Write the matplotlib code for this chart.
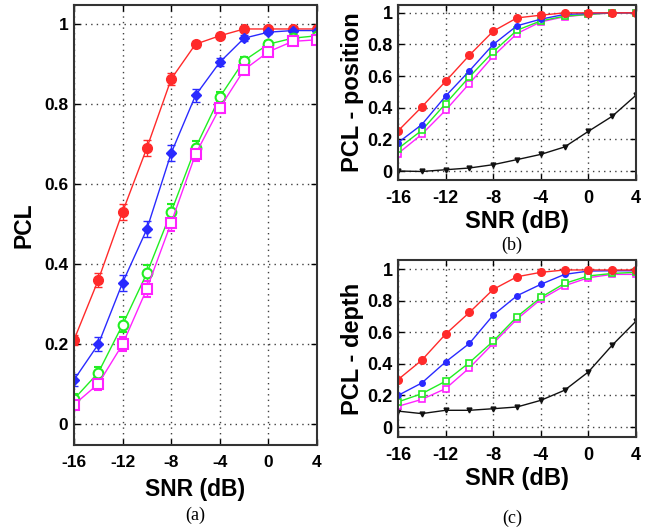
import numpy as np
import matplotlib
matplotlib.use("Agg")
import matplotlib.pyplot as plt

plt.rcParams['font.family'] = ['Liberation Sans', 'DejaVu Sans']

snr = [-16, -14, -12, -10, -8, -6, -4, -2, 0, 2, 4]

# panel (a): PCL with error bars
a_red = [0.21, 0.36, 0.53, 0.69, 0.862, 0.949, 0.97, 0.987, 0.987, 0.987, 0.987]
a_blue = [0.11, 0.199, 0.353, 0.487, 0.677, 0.821, 0.904, 0.964, 0.979, 0.983, 0.983]
a_green = [0.062, 0.128, 0.248, 0.377, 0.53, 0.69, 0.817, 0.908, 0.949, 0.964, 0.97]
a_mag = [0.048, 0.10, 0.199, 0.338, 0.503, 0.674, 0.79, 0.885, 0.93, 0.956, 0.96]
a_red_err = [0.012, 0.018, 0.02, 0.02, 0.015, 0.008, 0.006, 0.004, 0.004, 0.004, 0.004]
a_blue_err = [0.015, 0.018, 0.02, 0.02, 0.019, 0.016, 0.01, 0.007, 0.005, 0.004, 0.004]
a_green_err = [0.012, 0.015, 0.018, 0.02, 0.02, 0.018, 0.012, 0.01, 0.008, 0.006, 0.005]
a_mag_err = [0.012, 0.015, 0.018, 0.02, 0.02, 0.018, 0.012, 0.01, 0.008, 0.006, 0.005]

# panel (b): PCL - position
b_red = [0.253, 0.405, 0.567, 0.732, 0.884, 0.968, 0.985, 1.0, 1.0, 1.0, 1.0]
b_blue = [0.179, 0.293, 0.473, 0.633, 0.80, 0.918, 0.96, 0.99, 0.996, 1.0, 1.0]
b_green = [0.141, 0.257, 0.426, 0.595, 0.753, 0.89, 0.949, 0.979, 0.99, 1.0, 1.0]
b_mag = [0.11, 0.232, 0.384, 0.553, 0.726, 0.869, 0.943, 0.975, 0.99, 1.0, 1.0]
b_black = [0.0, -0.003, 0.008, 0.019, 0.04, 0.072, 0.105, 0.152, 0.251, 0.346, 0.479]

# panel (c): PCL - depth
c_red = [0.30, 0.423, 0.588, 0.725, 0.871, 0.951, 0.979, 0.994, 0.994, 0.994, 0.994]
c_blue = [0.20, 0.279, 0.412, 0.529, 0.708, 0.831, 0.903, 0.966, 0.987, 0.989, 0.989]
c_green = [0.159, 0.211, 0.29, 0.408, 0.543, 0.698, 0.82, 0.909, 0.956, 0.972, 0.979]
c_mag = [0.131, 0.175, 0.243, 0.374, 0.529, 0.683, 0.808, 0.894, 0.945, 0.966, 0.966]
c_black = [0.101, 0.085, 0.106, 0.106, 0.116, 0.127, 0.169, 0.233, 0.349, 0.518, 0.67]

RED = '#ff2a2a'
BLUE = '#2a2aff'
GREEN = '#22ee22'
MAG = '#ff22ff'
BLACK = '#111111'

xticks = [-16, -12, -8, -4, 0, 4]
yticks = [0, 0.2, 0.4, 0.6, 0.8, 1]
yticklabels = ['0', '0.2', '0.4', '0.6', '0.8', '1']


def style(ax, ylim, tfs, lfs, ylabel, ylpad, xlpad):
    ax.set_xlim(-16, 4)
    ax.set_ylim(*ylim)
    ax.set_xticks(xticks)
    ax.set_xticklabels([str(t) for t in xticks], fontweight='bold', fontsize=tfs)
    ax.set_yticks(yticks)
    ax.set_yticklabels(yticklabels, fontweight='bold', fontsize=tfs)
    ax.tick_params(direction='in', length=4, width=1, top=True, right=True)
    ax.tick_params(axis='x', pad=7)
    ax.tick_params(axis='y', pad=4)
    ax.grid(True, linestyle=(0, (1, 3)), color='0.25', linewidth=1)
    for s in ax.spines.values():
        s.set_linewidth(1.5)
        s.set_color('0.2')
    ax.set_xlabel('SNR (dB)', fontweight='bold', fontsize=lfs, labelpad=xlpad)
    ax.set_ylabel(ylabel, fontweight='bold', fontsize=lfs, labelpad=ylpad)


fig = plt.figure(figsize=(6.55, 5.29), dpi=100)

ax1 = fig.add_axes([0.113, 0.159, 0.371, 0.832])
ax1.errorbar(snr, a_red, yerr=a_red_err, color=RED, marker='o', ms=7, mfc=RED, mec=RED, lw=1, capsize=3)
ax1.errorbar(snr, a_blue, yerr=a_blue_err, color=BLUE, marker='D', ms=5.5, mfc=BLUE, mec=BLUE, lw=1, capsize=3)
ax1.errorbar(snr, a_green, yerr=a_green_err, color=GREEN, marker='o', ms=7, mfc='white', mec=GREEN, mew=1.5, lw=1, capsize=3)
ax1.errorbar(snr, a_mag, yerr=a_mag_err, color=MAG, marker='s', ms=6.5, mfc='white', mec=MAG, mew=1.5, lw=1, capsize=3)
style(ax1, (-0.0525, 1.0475), 12.5, 16.5, 'PCL', 6, 6)

ax2 = fig.add_axes([0.6076, 0.6597, 0.3634, 0.331])
ax2.plot(snr, b_black, color=BLACK, marker='v', ms=3.5, lw=1)
ax2.plot(snr, b_mag, color=MAG, marker='s', ms=5, mfc='white', mec=MAG, mew=1.2, lw=1)
ax2.plot(snr, b_green, color=GREEN, marker='s', ms=5, mfc='white', mec=GREEN, mew=1.2, lw=1)
ax2.plot(snr, b_blue, color=BLUE, marker='o', ms=4, lw=1)
ax2.plot(snr, b_red, color=RED, marker='o', ms=5.5, lw=1)
style(ax2, (-0.057, 1.05), 13, 17, 'PCL - position', 2, 2)

ax3 = fig.add_axes([0.6076, 0.1739, 0.3634, 0.3346])
ax3.plot(snr, c_black, color=BLACK, marker='v', ms=3.5, lw=1)
ax3.plot(snr, c_mag, color=MAG, marker='s', ms=5, mfc='white', mec=MAG, mew=1.2, lw=1)
ax3.plot(snr, c_green, color=GREEN, marker='s', ms=5, mfc='white', mec=GREEN, mew=1.2, lw=1)
ax3.plot(snr, c_blue, color=BLUE, marker='o', ms=4, lw=1)
ax3.plot(snr, c_red, color=RED, marker='o', ms=5.5, lw=1)
style(ax3, (-0.063, 1.057), 13, 17, 'PCL - depth', 2, 2)

serif = ['Liberation Serif', 'DejaVu Serif']
fig.text(195 / 655, 1 - 515 / 529, '(a)', family=serif, fontsize=13, ha='center', va='center')
fig.text(512 / 655, 1 - 245 / 529, '(b)', family=serif, fontsize=13, ha='center', va='center')
fig.text(512 / 655, 2 / 529, '(c)', family=serif, fontsize=13, ha='center', va='bottom')

fig.savefig('out.png', dpi=100)
